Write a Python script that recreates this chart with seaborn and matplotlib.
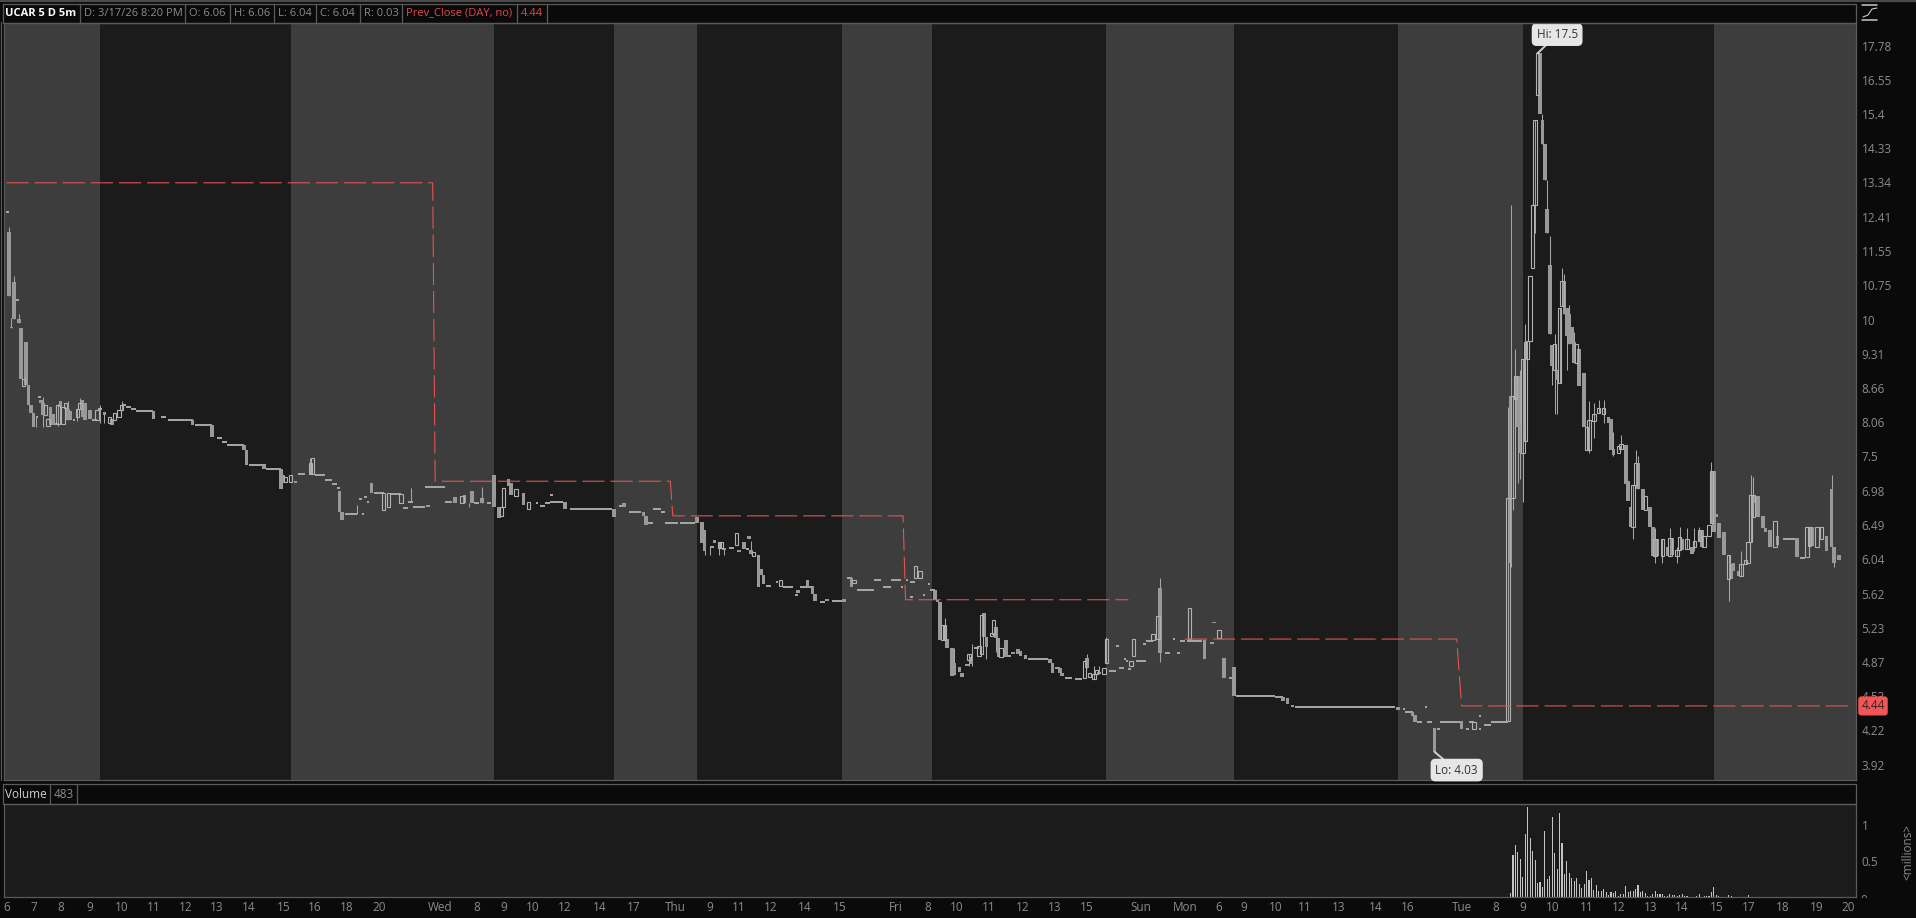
import matplotlib
matplotlib.use("Agg")
import matplotlib.pyplot as plt
from matplotlib.transforms import Bbox
import seaborn as sns

# bar number = 5 minute candle counted from the left edge of the chart
band_edges = [0, 39, 117, 200, 249, 283, 342, 379, 450, 502, 569, 620, 698, 756]

price_ticks = [17.78, 16.55, 15.4, 14.33, 13.34, 12.41, 11.55, 10.75, 10, 9.31, 8.66,
               8.06, 7.5, 6.98, 6.49, 6.04, 5.62, 5.23, 4.87, 4.53, 4.22, 3.92]

time_bars = [1, 12, 23, 35, 48, 61, 74, 87, 100, 114, 127, 140, 153, 178, 193, 204, 216, 229, 243, 257,
             274, 288, 300, 313, 327, 341, 364, 377, 389, 402, 416, 429, 442, 464, 482, 496, 506, 519, 531, 545,
             560, 573, 595, 609, 620, 632, 646, 659, 672, 685, 699, 712, 726, 740, 753]
time_labels = ["6", "7", "8", "9", "10", "11", "12", "13", "14", "15", "16", "18", "20", "Wed", "8", "9", "10", "12", "14", "17",
               "Thu", "9", "11", "12", "14", "15", "Fri", "8", "10", "11", "12", "13", "15", "Sun", "Mon", "6", "9", "10", "11", "13",
               "14", "16", "Tue", "8", "9", "10", "11", "12", "13", "14", "15", "17", "18", "19", "20"]

# candle bodies, 10 to a row
candle_bar = [2, 3, 4, 6, 7, 8, 9, 10, 11, 12,
              15, 16, 17, 18, 19, 20, 22, 23, 24, 25,
              26, 27, 30, 31, 32, 33, 35, 38, 39, 41,
              43, 44, 45, 47, 48, 61, 77, 85, 98, 99,
              106, 113, 114, 115, 117, 119, 125, 126, 137, 138,
              150, 155, 157, 162, 173, 184, 187, 188, 191, 195,
              200, 202, 203, 204, 206, 207, 209, 212, 214, 229,
              249, 253, 261, 262, 283, 285, 286, 290, 292, 293,
              294, 299, 300, 302, 304, 305, 306, 308, 309, 310,
              317, 324, 328, 330, 331, 336, 343, 346, 347, 372,
              374, 380, 381, 382, 383, 384, 385, 387, 388, 390,
              391, 393, 394, 395, 398, 399, 400, 401, 403, 404,
              405, 406, 407, 409, 412, 414, 415, 417, 427, 428,
              431, 432, 441, 442, 443, 445, 446, 447, 449, 450,
              460, 461, 469, 471, 472, 484, 490, 493, 494, 496,
              498, 502, 522, 524, 526, 569, 575, 576, 584, 595,
              600, 614, 615, 616, 617, 618, 619, 620, 621, 622,
              623, 624, 625, 626, 627, 628, 629, 630, 631, 632,
              633, 634, 635, 636, 637, 638, 639, 640, 641, 642,
              643, 645, 646, 647, 649, 651, 653, 655, 656, 657,
              659, 660, 662, 663, 664, 665, 666, 667, 669, 670,
              672, 673, 674, 675, 677, 679, 680, 681, 683, 684,
              685, 687, 689, 690, 692, 693, 694, 696, 697, 698,
              699, 700, 702, 704, 705, 706, 708, 709, 711, 712,
              713, 714, 715, 716, 718, 719, 721, 723, 724, 732,
              736, 737, 738, 740, 742, 744, 746, 747, 749, 750]
candle_open = [12.03, 9.85, 10.83, 10.02, 9.83, 8.70, 9.54, 8.72, 8.36, 8.22,
               8.45, 8.40, 8.18, 8.00, 8.32, 8.20, 8.03, 8.42, 8.03, 8.30,
               8.28, 8.25, 8.15, 8.28, 8.45, 8.40, 8.27, 8.10, 8.28, 8.24,
               8.05, 8.12, 8.10, 8.15, 8.27, 8.25, 8.10, 8.02, 7.69, 7.61,
               7.37, 7.31, 7.21, 7.11, 7.11, 7.12, 7.23, 7.23, 6.97, 6.67,
               7.10, 6.70, 6.75, 6.80, 6.77, 6.89, 6.80, 6.91, 6.98, 6.87,
               7.21, 6.74, 6.62, 6.74, 7.16, 7.10, 6.90, 6.94, 6.71, 6.81,
               6.72, 6.80, 6.67, 6.62, 6.61, 6.53, 6.42, 6.29, 6.19, 6.19,
               6.19, 6.23, 6.16, 6.27, 6.34, 6.16, 6.09, 6.10, 5.92, 5.85,
               5.71, 5.66, 5.78, 5.71, 5.62, 5.56, 5.56, 5.81, 5.75, 5.81,
               5.81, 5.66, 5.55, 5.52, 5.10, 5.10, 5.11, 5.01, 4.86, 4.82,
               4.76, 4.85, 4.89, 4.92, 4.93, 4.95, 5.40, 5.13, 5.14, 5.16,
               5.24, 5.12, 4.92, 5.10, 4.97, 5.00, 4.98, 4.94, 4.90, 4.86,
               4.81, 4.76, 4.71, 4.91, 4.72, 4.70, 4.75, 4.77, 4.75, 4.86,
               4.83, 4.93, 5.10, 5.11, 5.69, 5.11, 5.10, 5.08, 5.30, 5.12,
               4.91, 4.82, 4.52, 4.51, 4.45, 4.43, 4.38, 4.36, 4.24, 4.30,
               4.23, 4.30, 8.52, 6.87, 8.47, 8.88, 8.02, 7.55, 7.74, 9.21,
               9.56, 11.14, 12.72, 16.04, 17.50, 15.20, 14.46, 12.62, 11.22, 9.47,
               9.00, 9.00, 8.76, 10.30, 10.85, 10.25, 10.12, 9.85, 9.53, 9.13,
               9.40, 8.94, 7.60, 7.60, 8.08, 8.22, 8.20, 8.15, 8.12, 7.62,
               7.55, 7.62, 7.68, 7.12, 6.75, 6.47, 7.07, 7.40, 7.00, 6.70,
               6.74, 6.47, 6.08, 6.30, 6.08, 6.20, 6.08, 6.32, 6.08, 6.16,
               6.30, 6.18, 6.20, 6.20, 6.28, 6.42, 6.20, 6.35, 6.52, 7.27,
               6.65, 6.52, 6.40, 5.80, 5.98, 6.00, 5.90, 5.84, 5.98, 6.00,
               6.27, 6.60, 6.90, 6.90, 6.62, 6.45, 6.42, 6.20, 6.35, 6.32,
               6.07, 6.22, 6.47, 6.20, 6.30, 6.35, 7.00, 6.20, 6.10, 6.05]
candle_close = [10.51, 9.82, 10.02, 9.92, 8.83, 8.83, 8.72, 8.35, 8.22, 7.98,
                8.40, 8.18, 8.36, 8.12, 8.02, 8.02, 8.36, 8.32, 8.32, 8.40,
                8.10, 8.10, 8.28, 8.40, 8.15, 8.10, 8.12, 8.27, 8.30, 8.18,
                8.15, 8.02, 8.21, 8.27, 8.35, 8.12, 8.02, 7.81, 7.61, 7.37,
                7.31, 7.00, 7.10, 7.19, 7.21, 7.10, 7.40, 7.47, 6.67, 6.56,
                6.95, 6.94, 6.95, 6.93, 6.74, 6.80, 6.90, 6.80, 6.80, 6.80,
                6.74, 6.59, 6.74, 7.02, 7.05, 6.92, 7.00, 6.77, 6.82, 6.71,
                6.60, 6.74, 6.62, 6.50, 6.52, 6.25, 6.15, 6.25, 6.27, 6.27,
                6.16, 6.38, 6.13, 6.18, 6.31, 6.11, 6.14, 5.70, 5.85, 5.74,
                5.78, 5.63, 5.70, 5.62, 5.53, 5.53, 5.52, 5.70, 5.79, 5.96,
                5.90, 5.55, 5.52, 5.10, 5.26, 5.26, 5.01, 4.73, 4.74, 4.77,
                4.72, 4.83, 4.95, 4.85, 5.04, 5.38, 5.13, 5.03, 5.18, 5.32,
                5.12, 4.92, 5.01, 4.92, 4.95, 4.95, 4.93, 4.90, 4.86, 4.76,
                4.76, 4.73, 4.88, 4.81, 4.76, 4.75, 4.79, 4.75, 4.81, 5.11,
                4.88, 5.11, 5.17, 5.36, 4.96, 5.45, 4.90, 5.06, 5.28, 5.21,
                4.71, 4.53, 4.49, 4.46, 4.43, 4.40, 4.35, 4.29, 4.03, 4.23,
                4.29, 6.87, 6.00, 8.52, 8.88, 7.98, 7.55, 9.21, 9.54, 9.56,
                10.95, 12.72, 15.20, 17.50, 15.41, 14.46, 13.41, 12.00, 9.70, 9.07,
                9.50, 8.80, 10.25, 10.85, 10.12, 9.67, 9.50, 9.50, 9.13, 9.50,
                8.70, 7.98, 7.98, 8.10, 8.20, 8.30, 8.30, 8.05, 7.60, 7.52,
                7.67, 7.70, 7.08, 6.83, 6.47, 7.07, 7.40, 7.00, 6.70, 6.90,
                6.47, 6.08, 6.30, 6.08, 6.30, 6.08, 6.32, 6.10, 6.16, 6.33,
                6.16, 6.30, 6.11, 6.28, 6.42, 6.20, 6.35, 6.50, 7.27, 6.40,
                6.60, 6.32, 6.10, 6.10, 5.80, 5.90, 5.83, 5.98, 6.03, 6.27,
                6.92, 6.92, 6.80, 6.60, 6.45, 6.40, 6.20, 6.55, 6.23, 6.07,
                6.47, 6.47, 6.22, 6.47, 6.47, 6.15, 6.20, 6.00, 6.03, 6.04]

wick_bar = [2, 3, 4, 6, 13, 16, 22, 26, 30, 31,
            39, 41, 48, 125, 144, 166, 190, 195, 286, 288,
            292, 294, 305, 384, 388, 394, 395, 401, 405, 442,
            445, 447, 450, 472, 614, 615, 616, 617, 618, 619,
            620, 621, 625, 628, 629, 630, 631, 632, 633, 634,
            635, 636, 637, 638, 639, 641, 647, 649, 651, 653,
            657, 660, 665, 666, 667, 674, 677, 680, 683, 684,
            687, 690, 692, 697, 704, 709, 713, 714, 746, 747]
wick_high = [12.15, 10.03, 10.95, 10.12, 8.16, 8.50, 8.38, 8.42, 8.28, 8.48,
             8.36, 8.24, 8.42, 7.47, 6.77, 7.02, 6.80, 7.03, 6.42, 6.20,
             6.27, 6.19, 6.28, 5.34, 5.01, 4.95, 5.06, 5.13, 5.24, 4.95,
             4.83, 4.83, 5.13, 5.81, 8.33, 12.72, 8.52, 9.40, 8.88, 9.00,
             9.21, 9.90, 15.20, 15.40, 14.46, 13.41, 11.92, 9.47, 9.70, 9.00,
             10.25, 11.14, 11.00, 10.25, 10.32, 9.75, 8.43, 8.40, 8.45, 8.45,
             7.90, 7.85, 7.07, 7.60, 7.50, 6.45, 6.30, 6.45, 6.20, 6.47,
             6.45, 6.45, 6.47, 7.42, 6.10, 6.15, 7.22, 7.18, 7.22, 6.20]
wick_low = [10.51, 9.82, 10.02, 9.92, 7.98, 7.98, 8.00, 8.10, 8.08, 8.28,
            8.05, 8.05, 8.27, 7.23, 6.65, 6.82, 6.74, 6.80, 6.10, 6.10,
            6.10, 6.10, 6.11, 5.10, 4.74, 4.83, 4.83, 4.90, 4.97, 4.81,
            4.70, 4.75, 4.86, 4.87, 4.30, 5.95, 6.70, 8.47, 7.10, 7.16,
            6.82, 7.74, 12.00, 14.46, 13.41, 12.00, 9.70, 8.72, 8.20, 8.20,
            8.76, 10.30, 10.12, 9.00, 9.50, 9.13, 7.55, 7.80, 8.22, 8.05,
            7.50, 7.62, 6.31, 7.07, 7.00, 6.00, 6.00, 6.08, 6.00, 6.16,
            6.18, 6.15, 6.28, 6.52, 5.53, 5.84, 6.27, 6.60, 6.03, 5.94]

# stretches where a run of candles sits flat at one price
flat_start = [1, 5, 14, 13, 21, 28, 36, 48, 50, 52,
              54, 64, 67, 78, 87, 89, 91, 100, 107, 120,
              127, 131, 134, 136, 139, 146, 145, 147, 148, 151,
              158, 163, 165, 167, 172, 180, 192, 197, 217, 219,
              221, 223, 223, 231, 251, 255, 262, 265, 268, 270,
              276, 288, 296, 303, 311, 315, 318, 323, 325, 333,
              338, 344, 348, 355, 359, 362, 366, 368, 370, 370,
              375, 377, 378, 396, 410, 418, 429, 433, 437, 451,
              454, 455, 457, 458, 459, 462, 465, 466, 474, 479,
              477, 480, 483, 500, 503, 519, 527, 571, 572, 577,
              580, 581, 585, 586, 597, 598, 602, 602, 604, 607,
              726, 733]
flat_end = [2, 6, 15, 14, 22, 29, 38, 50, 52, 54,
            61, 66, 77, 85, 89, 91, 98, 107, 113, 123,
            131, 134, 136, 137, 144, 147, 146, 148, 149, 155,
            162, 165, 167, 172, 180, 183, 194, 199, 218, 221,
            223, 224, 228, 248, 253, 260, 265, 268, 270, 275,
            282, 290, 298, 304, 313, 316, 322, 324, 330, 335,
            343, 346, 355, 358, 362, 366, 367, 369, 371, 372,
            376, 378, 380, 398, 411, 426, 431, 436, 440, 454,
            455, 457, 458, 459, 460, 466, 466, 469, 476, 480,
            478, 482, 489, 502, 519, 522, 568, 572, 575, 579,
            581, 583, 586, 595, 598, 600, 603, 603, 607, 614,
            732, 735]
flat_price = [12.54, 10.42, 8.50, 8.15, 8.03, 8.10, 8.10, 8.36, 8.33, 8.28,
              8.25, 8.15, 8.10, 8.02, 7.79, 7.73, 7.69, 7.37, 7.31, 7.23,
              7.21, 7.14, 7.08, 7.02, 6.65, 6.65, 6.86, 6.89, 6.81, 6.95,
              6.93, 6.73, 6.82, 6.75, 7.04, 6.81, 6.80, 6.80, 6.80, 6.76,
              6.80, 6.91, 6.82, 6.72, 6.76, 6.67, 6.52, 6.72, 6.67, 6.52,
              6.52, 6.20, 6.19, 6.18, 5.71, 5.76, 5.70, 5.61, 5.70, 5.52,
              5.54, 5.81, 5.66, 5.79, 5.70, 5.79, 5.70, 5.78, 5.58, 5.76,
              5.60, 5.74, 5.66, 5.01, 4.93, 4.90, 4.81, 4.71, 4.70, 4.78,
              5.04, 4.81, 4.90, 4.88, 4.80, 4.88, 5.06, 5.09, 4.96, 4.96,
              5.11, 5.09, 5.09, 4.71, 4.53, 4.52, 4.43, 4.41, 4.38, 4.29,
              4.43, 4.29, 4.23, 4.29, 4.23, 4.29, 4.23, 4.35, 4.27, 4.29,
              6.30, 6.06]

prev_bar_a = [1, 175, 176, 272, 273, 367, 368, 459]
prev_close_a = [13.33, 13.33, 7.12, 7.12, 6.62, 6.62, 5.55, 5.55]
prev_bar_b = [482, 593, 595, 755]
prev_close_b = [5.11, 5.11, 4.44, 4.44]

vol_bar = list(range(615, 688)) + [691, 692, 694, 695, 696, 697, 698, 699, 700, 704, 705, 712]
vol_millions = [.06, .58, .72, .62, .53, .28, .88, 1.25, .82, .64,
                .51, .19, .21, .14, .92, .25, .29, 1.11, .61, .39,
                1.17, .75, .32, .50, .33, .26, .22, .26, .18, .13,
                .18, .36, .24, .26, .10, .17, .08, .08, .11, .07,
                .03, .07, .06, .08, .01, .04, .04, .15, .07, .08,
                .08, .11, .17, .07, .08, .06, .01, .01, .04, .08,
                .04, .04, .04, .01, .01, .04, .03, .03, .01, .03,
                .04, .01, .01,
                .01, .04, .01, .01, .01, .07, .14, .03, .01, .03, .01, .03]

header_edges = [80, 185, 230, 274, 316, 360, 402, 517, 547]
header_text = ["D: 3/17/26 8:20 PM", "O: 6.06", "H: 6.06", "L: 6.04", "C: 6.04", "R: 0.03", "Prev_Close (DAY, no)", "4.44"]

LIGHT = "#3d3d3d"
DARK = "#1b1b1b"
BLACK = "#0a0a0a"
LINE = "#5a5a5a"
TICK = "#8c8c8c"
RED = "#ee5555"
W, H = 1916, 918

sns.set_style("dark")
plt.rcParams["font.family"] = ["Open Sans", "DejaVu Sans"]
plt.rcParams["font.size"] = 8.5

fig = plt.figure(figsize=(W / 100, H / 100), dpi=100, facecolor=BLACK)
ax = fig.add_axes([4 / W, (H - 780) / H, 1852 / W, 757.5 / H])
ax_vol = fig.add_axes([4 / W, (H - 897) / H, 1852 / W, 93 / H], sharex=None)

# price panel
ax.set_yscale("log")
for i in range(len(band_edges) - 1):
    ax.axvspan(band_edges[i], band_edges[i + 1], color=LIGHT if i % 2 == 0 else DARK, lw=0, zorder=0)

up_bar, up_low, up_h, dn_bar, dn_low, dn_h = [], [], [], [], [], []
for b, o, c in zip(candle_bar, candle_open, candle_close):
    if c >= o:
        up_bar.append(b); up_low.append(o); up_h.append(c - o)
    else:
        dn_bar.append(b); dn_low.append(c); dn_h.append(o - c)

ax.vlines(wick_bar, wick_low, wick_high, color="#a6a6a6", lw=0.75, zorder=2)
ax.hlines(flat_price, flat_start, flat_end, color="#a8a8a8", lw=1.4, zorder=2)
ax.bar(dn_bar, dn_h, bottom=dn_low, width=1.5, color="#999999", lw=0, zorder=3)
ax.bar(up_bar, up_h, bottom=up_low, width=1.4, facecolor="none", edgecolor="#b2b2b2", lw=0.8, zorder=3)

for px, py in [(prev_bar_a, prev_close_a), (prev_bar_b, prev_close_b)]:
    sns.lineplot(x=px, y=py, ax=ax, color=RED, lw=0.75, linestyle=(0, (21.3, 5.7)),
                 estimator=None, sort=False, zorder=4)

ax.set_xlim(0, 756)
ax.set_ylim(3.80, 18.67)
ax.set_xticks([])
ax.yaxis.tick_right()
ax.set_yticks(price_ticks, [str(t) for t in price_ticks])
ax.minorticks_off()
ax.tick_params(axis="y", length=0, pad=4, labelcolor=TICK, labelsize=8.5)
ax.set_xlabel("")
ax.set_ylabel("")
for s in ax.spines.values():
    s.set_color(LINE)
    s.set_linewidth(0.9)

note_box = dict(boxstyle="round,pad=0.35", fc="#e6e6e6", ec="#e6e6e6")
ax.annotate("Hi: 17.5", xy=(626, 17.5), xytext=(634, 18.2), ha="center", va="center", color="#333333", fontsize=8.5,
            bbox=note_box, arrowprops=dict(arrowstyle="-", color="#d0d0d0", lw=1.4, shrinkA=0, shrinkB=0), zorder=6)
ax.annotate("Lo: 4.03", xy=(584, 4.03), xytext=(593, 3.88), ha="center", va="center", color="#333333", fontsize=8.5,
            bbox=note_box, arrowprops=dict(arrowstyle="-", color="#d0d0d0", lw=1.4, shrinkA=0, shrinkB=0), zorder=6)
ax.text(1 + 17 / 1852, 4.44, "4.44", transform=ax.get_yaxis_transform(), ha="center", va="center", color="#3a2020",
        fontsize=8.5, bbox=dict(boxstyle="round,pad=0.2", fc="#f25555", ec="#f25555"), zorder=7)

# volume panel
ax_vol.set_facecolor(DARK)
sns.barplot(x=vol_bar, y=vol_millions, ax=ax_vol, native_scale=True, color="#c4c4c4", saturation=1, width=0.45, lw=0)
ax_vol.set_xlim(0, 756)
ax_vol.set_ylim(0, 1.29)
ax_vol.yaxis.tick_right()
ax_vol.set_yticks([0.5, 1], ["0.5", "1"])
ax_vol.set_xticks(time_bars, time_labels)
ax_vol.tick_params(axis="both", length=0, labelcolor=TICK, labelsize=8.5)
ax_vol.tick_params(axis="x", pad=3)
ax_vol.tick_params(axis="y", pad=4)
ax_vol.grid(False)
ax_vol.set_xlabel("")
ax_vol.set_ylabel("")
for s in ax_vol.spines.values():
    s.set_color(LINE)
    s.set_linewidth(0.9)

# header strips and other window furniture, in screen pixels
top = fig.add_axes([0, 0, 1, 1], zorder=10)
top.set_xlim(0, W)
top.set_ylim(H, 0)
top.axis("off")
top.patch.set_alpha(0)
top.plot([0, W], [1.2, 1.2], color="#4a4a4a", lw=1.6)
top.plot([1.5, 1.5], [22, 780], color=LINE, lw=0.9)
for y0, y1 in [(3.5, 22.5), (784, 804)]:
    top.plot([3, 1856, 1856, 3, 3], [y0, y0, y1, y1, y0], color=LINE, lw=0.9)
for x in header_edges:
    top.plot([x, x], [3.5, 22.5], color=LINE, lw=0.9)
for x in [50, 77.5]:
    top.plot([x, x], [784, 804], color=LINE, lw=0.9)
top.text(5, 13, "UCAR 5 D 5m", color="white", weight="bold", fontsize=8, va="center")
for i, t in enumerate(header_text):
    top.text(header_edges[i] + 4, 13, t, color="#e8474c" if i >= 6 else TICK, fontsize=8, va="center")
top.text(5, 795, "Volume", color="#d0d0d0", fontsize=8.5, va="center")
top.text(54, 795, "483", color=TICK, fontsize=8.5, va="center")
top.text(1908, 852, "<millions>", color=TICK, fontsize=8.5, rotation=90, ha="center", va="center")
zero = top.text(1860, 901, "0", color=TICK, fontsize=8.5, va="center")
zero.set_clip_box(Bbox([[1856, H - 898], [1880, H - 880]]))
zero.set_clip_on(True)

# little scale icon, top right corner
top.plot([1862, 1877], [5, 5], color="#c8c8c8", lw=1.1)
top.plot([1862, 1877], [19.5, 19.5], color="#c8c8c8", lw=1.1)
top.plot([1863, 1868, 1872, 1877], [17, 15, 9, 8], color="#c8c8c8", lw=0.8)

fig.savefig("out.png", dpi=100, facecolor=BLACK)
